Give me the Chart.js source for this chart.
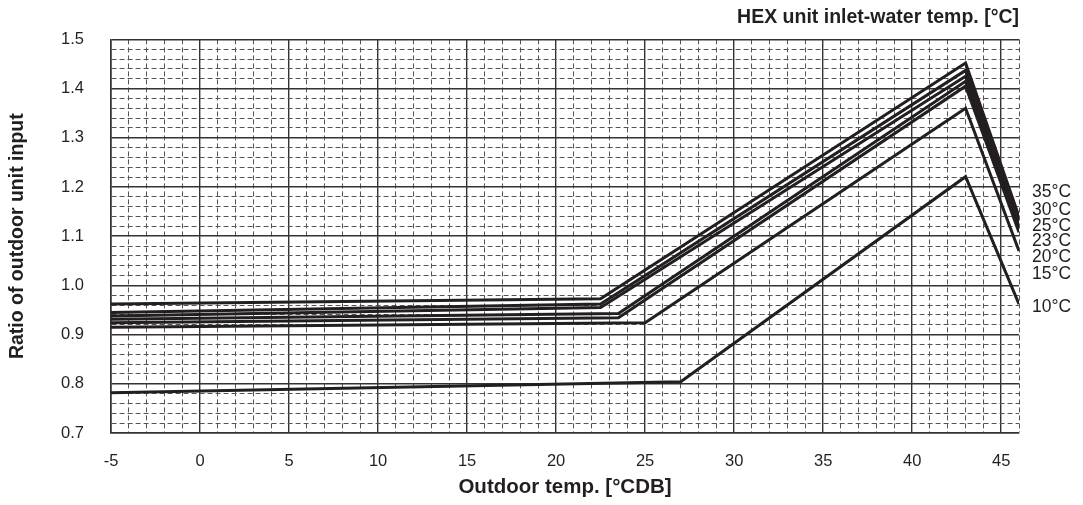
<!DOCTYPE html>
<html>
<head>
<meta charset="utf-8">
<script src="https://cdn.jsdelivr.net/npm/chart.js@4"></script>
<style>
  html, body { margin: 0; padding: 0; background: #fff; }
  #wrap { width: 1083px; height: 505px; position: relative; }
</style>
</head>
<body>
<div id="wrap"><canvas id="ratioChart" width="1083" height="505"></canvas></div>
<script>
// inlet-water temperature series
const seriesNames = ['35°C', '30°C', '25°C', '23°C', '20°C', '15°C', '10°C'];
const startX = -5;
const kinkX = [22.5, 22.5, 22.5, 23.5, 23.5, 25, 27];
const peakX = 43;
const endX = 46;
const startVals = [0.962, 0.945, 0.938, 0.931, 0.924, 0.915, 0.782];
const kinkVals = [0.973, 0.962, 0.955, 0.943, 0.934, 0.924, 0.804];
const peakVals = [1.452, 1.437, 1.425, 1.415, 1.405, 1.36, 1.221];
const endVals = [1.14, 1.13, 1.123, 1.117, 1.108, 1.07, 0.962];
// where the right-hand legend texts sit (in ratio units)
const labelVals = [1.189, 1.153, 1.120, 1.089, 1.057, 1.022, 0.955];

const xTickLabels = [-5, 0, 5, 10, 15, 20, 25, 30, 35, 40, 45];

const lineColor = '#231f20';
const font = 'Liberation Sans, Arial, Helvetica, sans-serif';

const datasets = seriesNames.map((name, i) => ({
    label: name,
    data: [
        { x: startX, y: startVals[i] },
        { x: kinkX[i], y: kinkVals[i] },
        { x: peakX, y: peakVals[i] },
        { x: endX, y: endVals[i] }
    ],
    borderColor: lineColor,
    borderWidth: 3,
    pointRadius: 0,
    tension: 0,
    fill: false
}));

// series names written at the right of the plot
const seriesLabels = {
    id: 'seriesLabels',
    afterDraw(chart) {
        const ctx = chart.ctx;
        const y = chart.scales.y;
        ctx.save();
        ctx.font = '17.5px ' + font;
        ctx.fillStyle = '#231f20';
        ctx.textAlign = 'left';
        ctx.textBaseline = 'middle';
        seriesNames.forEach((name, i) => {
            ctx.fillText(name, chart.chartArea.right + 13, y.getPixelForValue(labelVals[i]));
        });
        ctx.restore();
    }
};

const isMajorX = v => Math.round(v) % 5 === 0;
const isMajorY = v => Math.round(v * 100) % 10 === 0;

new Chart(document.getElementById('ratioChart'), {
    type: 'line',
    data: { datasets: datasets },
    plugins: [seriesLabels],
    options: {
        responsive: false,
        animation: false,
        layout: { padding: { left: 0, right: 64, top: 0, bottom: 0 } },
        plugins: {
            legend: { display: false },
            tooltip: { enabled: false },
            title: {
                display: true,
                text: 'HEX unit inlet-water temp. [°C]',
                align: 'end',
                color: '#231f20',
                font: { family: font, size: 19.5, weight: 'bold', lineHeight: 1.2 },
                padding: { top: 6, bottom: 10 }
            }
        },
        scales: {
            x: {
                type: 'linear',
                min: -5,
                max: 46,
                afterBuildTicks(scale) {
                    const t = [];
                    for (let v = -5; v <= 46; v++) t.push({ value: v });
                    scale.ticks = t;
                },
                afterFit(scale) { scale.height = 72; },
                ticks: {
                    autoSkip: false,
                    maxRotation: 0,
                    padding: 19,
                    color: '#231f20',
                    font: { family: font, size: 16.5 },
                    callback: v => (xTickLabels.includes(v) ? String(v) : '')
                },
                grid: {
                    drawTicks: false,
                    color: c => (isMajorX(c.tick.value) ? '#333' : '#555'),
                    lineWidth: c => (isMajorX(c.tick.value) ? 1.4 : 1)
                },
                border: {
                    color: '#333',
                    width: 1.6,
                    dash: c => (c.tick && !isMajorX(c.tick.value) ? [5, 3] : [])
                },
                title: {
                    display: true,
                    text: 'Outdoor temp. [°CDB]',
                    color: '#231f20',
                    font: { family: font, size: 20.5, weight: 'bold' },
                    padding: { top: 2, bottom: 5 }
                }
            },
            y: {
                type: 'linear',
                min: 0.7,
                max: 1.5,
                afterBuildTicks(scale) {
                    const t = [];
                    for (let i = 0; i <= 40; i++) t.push({ value: 0.7 + i * 0.02 });
                    scale.ticks = t;
                },
                afterFit(scale) { scale.width = 111; },
                ticks: {
                    autoSkip: false,
                    padding: 27,
                    color: '#231f20',
                    font: { family: font, size: 16.5 },
                    callback: v => (isMajorY(v) ? v.toFixed(1) : '')
                },
                grid: {
                    drawTicks: false,
                    color: c => (isMajorY(c.tick.value) ? '#333' : '#555'),
                    lineWidth: c => (isMajorY(c.tick.value) ? 1.4 : 1)
                },
                border: {
                    color: '#333',
                    width: 1.6,
                    dash: c => (c.tick && !isMajorY(c.tick.value) ? [5, 3] : [])
                },
                title: {
                    display: true,
                    text: 'Ratio of outdoor unit input',
                    color: '#231f20',
                    font: { family: font, size: 19.5, weight: 'bold' },
                    padding: { top: 6, bottom: 4 }
                }
            }
        }
    }
});
</script>
</body>
</html>
